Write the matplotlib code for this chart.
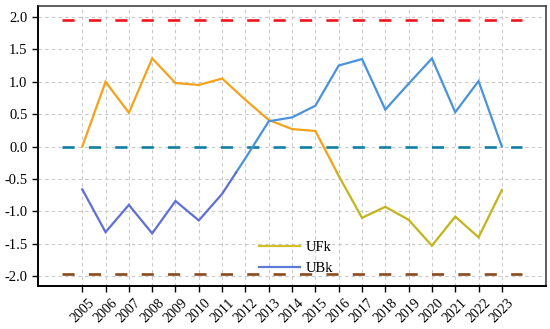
import numpy as np
import matplotlib
matplotlib.use("Agg")
import matplotlib.pyplot as plt
from matplotlib.lines import Line2D

plt.rcParams['font.family'] = ['Liberation Serif', 'DejaVu Serif']
plt.rcParams['axes.unicode_minus'] = False

years = list(range(2005, 2024))
ufk = [0.0, 1.0, 0.52, 1.36, 0.98, 0.95, 1.05, 0.72, 0.41, 0.27, 0.24, -0.45,
       -1.10, -0.93, -1.13, -1.53, -1.08, -1.40, -0.67]
ubk = [-0.66, -1.32, -0.90, -1.34, -0.84, -1.14, -0.73, -0.18, 0.39, 0.45, 0.63,
       1.25, 1.35, 0.57, 0.97, 1.36, 0.53, 1.01, 0.0]
crit = [1.96, 0.0, -1.96]
crit_colors = ['#f0141e', '#0f7fa3', '#8a4a1c']

ufk_hi, ufk_lo = '#f5a21b', '#c3b41c'
ubk_hi, ubk_lo = '#4a92db', '#5f6fd6'
split = -0.4


def pieces(x, y, thr):
    above, below = [], []
    cur = [(x[0], y[0])]
    side = y[0] >= thr
    for i in range(len(x) - 1):
        x0, y0, x1, y1 = x[i], y[i], x[i + 1], y[i + 1]
        s1 = y1 >= thr
        if s1 != side:
            t = (thr - y0) / (y1 - y0)
            xc = x0 + t * (x1 - x0)
            cur.append((xc, thr))
            (above if side else below).append(cur)
            cur = [(xc, thr)]
            side = s1
        cur.append((x1, y1))
    (above if side else below).append(cur)
    return above, below


fig = plt.figure(figsize=(5.5, 3.29), dpi=100)
ax = fig.add_axes([0.069, 0.131, 0.924, 0.851])

for yv, c in zip(crit, crit_colors):
    ax.hlines(yv, 2004.15, 2023.85, colors=c, linewidth=1.9,
              linestyles=(0, (4.6, 5.4)), zorder=3)

for data, chi, clo in [(ufk, ufk_hi, ufk_lo), (ubk, ubk_hi, ubk_lo)]:
    ab, be = pieces(years, data, split)
    for p in ab:
        xs, ys = zip(*p)
        ax.plot(xs, ys, color=chi, lw=1.6, solid_joinstyle='miter', zorder=4)
    for p in be:
        xs, ys = zip(*p)
        ax.plot(xs, ys, color=clo, lw=1.6, solid_joinstyle='miter', zorder=4)

ax.set_xlim(2003.1, 2024.9)
ax.set_ylim(-2.15, 2.17)
ax.set_xticks(years)
ax.set_xticklabels([str(y) for y in years], rotation=45, fontsize=10)
ax.set_yticks(np.arange(-2.0, 2.01, 0.5))
ax.set_yticklabels([f"{v:.1f}" for v in np.arange(-2.0, 2.01, 0.5)], fontsize=10.5)
ax.tick_params(direction='out', length=4, width=1, color='black')
ax.grid(True, linestyle=(0, (3, 3)), color='#c9c9c9', linewidth=0.8)
ax.set_axisbelow(True)
for s in ['left', 'bottom']:
    ax.spines[s].set_linewidth(1.4)
    ax.spines[s].set_color('black')
for s in ['top', 'right']:
    ax.spines[s].set_linewidth(1.1)
    ax.spines[s].set_color('#333333')

handles = [Line2D([], [], color='#d2bf2a', lw=1.6),
           Line2D([], [], color='#5b7bd6', lw=1.6)]
ax.legend(handles, ['UFk', 'UBk'], loc='center left',
          bbox_to_anchor=(0.41, 0.10), frameon=False, fontsize=10.5,
          handlelength=2.8, labelspacing=0.5, handletextpad=0.4)

fig.savefig('out.png', dpi=100)
